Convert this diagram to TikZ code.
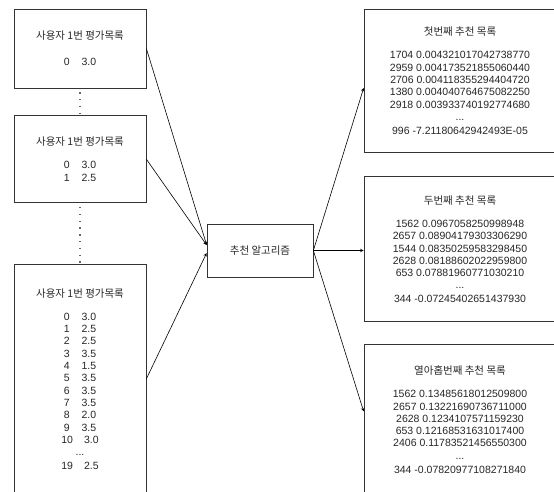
\documentclass[tikz,border=0pt]{standalone}
\usepackage{fontspec}
\setmainfont{Liberation Sans}
\newfontfamily\kr{Noto Sans CJK KR}
\usepackage{tikz}
\usetikzlibrary{arrows,positioning}

\begin{document}
\begin{tikzpicture}[
      x=1pt, y=-1pt,
      node distance=24pt,
      listbox/.style={rectangle, draw=black!80, line width=0.7pt, align=center, inner sep=0pt, font=\fontsize{10.5}{12.3}\selectfont, text=black!85},
      userbox/.style={listbox, minimum width=132pt},
      recbox/.style={listbox, minimum width=192pt},
      algbox/.style={listbox, minimum width=106pt, minimum height=53pt},
      arrow/.style={->, line width=0.6pt, >=stealth},
      dots/.style={line width=1.3pt, dash pattern=on 1.3pt off 5.5pt, black!60}
    ]
    \clip (0,0) rectangle (554,491);
    % User rating lists
    \node[userbox, minimum height=79pt] (user1) at (80,48.5)
      {{\kr 사용자 1번 평가목록}\\[14pt] 0\hspace{12pt}3.0};
    \node[userbox, minimum height=87pt, below=27pt of user1] (user2)
      {{\kr 사용자 1번 평가목록}\\[11pt] 0\hspace{12pt}3.0\\ 1\hspace{12pt}2.5};
    \node[userbox, minimum height=229pt, below=61pt of user2] (user3)
      {{\kr 사용자 1번 평가목록}\\[11pt]
       0\hspace{12pt}3.0\\ 1\hspace{12pt}2.5\\ 2\hspace{12pt}2.5\\ 3\hspace{12pt}3.5\\
       4\hspace{12pt}1.5\\ 5\hspace{12pt}3.5\\ 6\hspace{12pt}3.5\\ 7\hspace{12pt}3.5\\
       8\hspace{12pt}2.0\\ 9\hspace{12pt}3.5\\ 10\hspace{11pt}3.0\\ ...\\[1.5pt] 19\hspace{11pt}2.5};

    % Algorithm
    \node[algbox] (alg) at (260,250.5) {\kr 추천 알고리즘};

    % Recommendation lists
    \node[recbox, minimum height=143pt] (rec1) at (460,80.5)
      {{\kr 첫번째 추천 목록}\\[11pt]
       1704 0.004321017042738770\\ 2959 0.004173521855060440\\
       2706 0.004118355294404720\\ 1380 0.004040764675082250\\
       2918 0.003933740192774680\\ ...\\[1.5pt] 996 -7.21180642942493E-05};
    \node[recbox, minimum height=145pt, below=of rec1] (rec2)
      {{\kr 두번째 추천 목록}\\[11pt]
       1562 0.0967058250998948\\ 2657 0.08904179303306290\\
       1544 0.08350259583298450\\ 2628 0.08188602022959800\\
       653 0.07881960771030210\\ ...\\[1.5pt] 344 -0.07245402651437930};
    \node[recbox, minimum height=150pt, below=22pt of rec2] (rec3)
      {{\kr 열아홉번째 추천 목록}\\[11pt]
       1562 0.13485618012509800\\ 2657 0.13221690736711000\\
       2628 0.1234107571159230\\ 653 0.12168531631017400\\
       2406 0.11783521456550300\\ ...\\[1.5pt] 344 -0.07820977108271840};

    % Skipped lists
    \draw[dots] ([yshift=-4pt]user1.south) -- (user2.north);
    \draw[dots] ([yshift=-4pt]user2.south) -- (user3.north);

    % Into the algorithm
    \draw[arrow] (user1.east) -- ([yshift=5.5pt]alg.west);
    \draw[arrow] (user2.east) -- ([yshift=5.5pt]alg.west);
    \draw[arrow] (user3.east) -- ([yshift=-2.5pt]alg.west);

    % Out to the lists
    \draw[arrow] (alg.east) -- ([yshift=-7.5pt]rec1.west);
    \draw[arrow] (alg.east) -- (alg.east -| rec2.west);
    \draw[arrow] (alg.east) -- ([yshift=8pt]rec3.west);
\end{tikzpicture}
\end{document}
